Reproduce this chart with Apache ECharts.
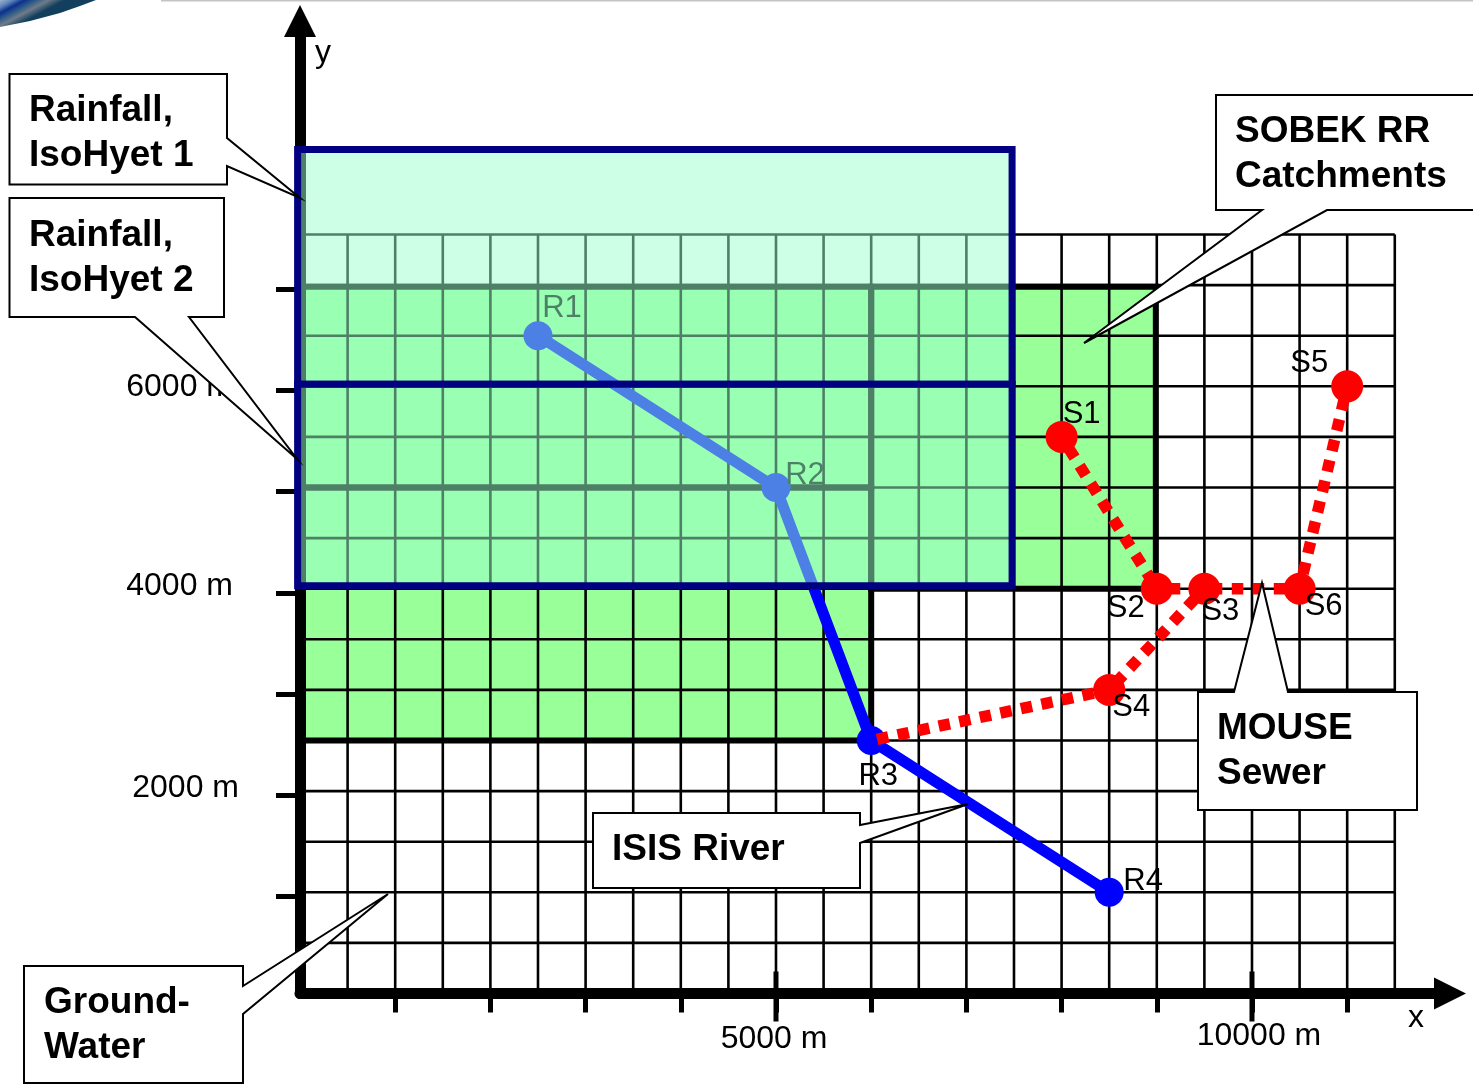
<!DOCTYPE html>
<html><head><meta charset="utf-8">
<style>html,body{margin:0;padding:0;background:#fff}#c{width:1473px;height:1084px}</style>
<script src="https://cdn.jsdelivr.net/npm/echarts@6/dist/echarts.min.js"></script>
</head><body><div id="c"></div>
<script>
// ---- data (metres) ----
const gridX = [0,500,1000,1500,2000,2500,3000,3500,4000,4500,5000,5500,6000,6500,7000,7500,8000,8500,9000,9500,10000,10500,11000,11500];
const gridY = [40,540,1040,1540,2040,2540,3040,3540,4040,4540,5040,5540,6040,6540,7040,7540];
const xTickValues = [1000,2000,3000,4000,5000,6000,7000,8000,9000,10000,11000];
const xMajorTicks = [5000,10000];
const yTickValues = [1000,2000,3000,4000,5000,6000,7000];
const xLabelValues = [5000,10000];
const yLabelValues = [2000,4000,6000];
// catchments: [x0, x1, y0, y1]
const catchments = [[0,6000,2540,5040],[0,6000,5040,7025],[6000,8990,4040,7025]];
// isohyets: [x0, x1, y0, y1]
const isohyets = [[-25,7480,6060,8380],[-25,7480,4070,6060]];
const riverNames = ['R1','R2','R3','R4'];
const riverPoints = [[2500,6540],[5000,5040],[6000,2540],[8500,1040]];
const sewerNames = ['S1','S2','S3','S4','S5','S6'];
const sewerPoints = [[8000,5540],[9000,4040],[9500,4040],[8500,3040],[11000,6040],[10500,4040]];
const R3 = riverPoints[2];
const sewerLinks = [
  [sewerPoints[0],sewerPoints[1]],
  [sewerPoints[1],sewerPoints[5]],
  [sewerPoints[4],sewerPoints[5]],
  [R3,sewerPoints[3]],
  [sewerPoints[3],sewerPoints[2]]
];
const sewerDashPhase = [8,9,8,15,12];
// ---- label placement / callouts ----
const labelOffset = {R1:[24,-27],R2:[29,-12],R3:[7,36],R4:[34,-11],S1:[20,-22],S2:[-31,20],S3:[16,23],S4:[22,18],S5:[-38,-23],S6:[24,18]};
const font = '"Liberation Sans", Arial, sans-serif';
const callouts = [
  {pts:[[9.5,74],[227,74],[227,138],[300,198],[227,166],[227,184.5],[9.5,184.5]], text:[['Rainfall,',29,111],['IsoHyet 1',29,156]]},
  {pts:[[9.5,198],[224,198],[224,317],[189,317],[297,459],[135,317],[9.5,317]], text:[['Rainfall,',29,236],['IsoHyet 2',29,281]]},
  {pts:[[1216,95],[1480,95],[1480,210],[1327,210],[1084,343],[1262,210],[1216,210]], text:[['SOBEK RR',1235,132],['Catchments',1235,177]]},
  {pts:[[1198,692],[1234,692],[1262,583],[1288,692],[1417,692],[1417,810],[1198,810]], text:[['MOUSE',1217,729],['Sewer',1217,774]]},
  {pts:[[593,813],[860,813],[860,825],[968,804],[860,843],[860,888],[593,888]], text:[['ISIS River',612,850]]},
  {pts:[[24,966],[243,966],[243,986],[388,894],[243,1014],[243,1083],[24,1083]], text:[['Ground-',44,1003],['Water',44,1048]]}
];
const graphics = [
  {type:'rect',shape:{x:161,y:0,width:1312,height:1.5},style:{fill:'#c4c4c4'},z:1,silent:true},
  {type:'polygon',shape:{points:[[0,0],[96,0],[80,6],[60,13],[30,21],[0,27]]},
   style:{fill:{type:'linear',x:0,y:0,x2:0.15,y2:1,colorStops:[{offset:0,color:'#9fb2cf'},{offset:.2,color:'#5f86bb'},{offset:.38,color:'#0d2f8e'},{offset:.55,color:'#2a5a88'},{offset:.75,color:'#6f7b88'},{offset:1,color:'#123f5e'}]}},z:1,silent:true},
  {type:'text',x:315,y:53,style:{text:'y',font:'32px '+font,fill:'#000',textVerticalAlign:'middle'},z:2,silent:true},
  {type:'text',x:1408,y:1018,style:{text:'x',font:'32px '+font,fill:'#000',textVerticalAlign:'middle'},z:2,silent:true}
];
callouts.forEach(c=>{
  graphics.push({type:'polygon',shape:{points:c.pts},style:{fill:'#fff',stroke:'#000',lineWidth:2},z:20,silent:true});
  c.text.forEach(t=>graphics.push({type:'text',x:t[1],y:t[2],style:{text:t[0],font:'bold 37px '+font,fill:'#000',textVerticalAlign:'middle'},z:21,silent:true}));
});
function rectSeries(name,data,z,style){
  return {type:'custom',name,z,silent:true,coordinateSystem:'cartesian2d',clip:false,data,
    encode:{x:[0,1],y:[2,3]},
    renderItem(p,api){
      const a=api.coord([api.value(0),api.value(3)]),b=api.coord([api.value(1),api.value(2)]);
      return {type:'rect',shape:{x:a[0],y:a[1],width:b[0]-a[0],height:b[1]-a[1]},style};
    }};
}
function lineSeg(a,b,width,color){
  return {type:'line',shape:{x1:a[0],y1:a[1],x2:b[0],y2:b[1]},style:{stroke:color,lineWidth:width,fill:null}};
}
const option = {
  animation:false,
  backgroundColor:'#fff',
  graphic:graphics,
  grid:{left:300,top:21,width:1150,height:972.5,containLabel:false},
  xAxis:{type:'value',min:0,max:12080,z:3,position:'bottom',
    axisLine:{onZero:false,symbol:['none','triangle'],symbolSize:[32,32],lineStyle:{color:'#000',width:11}},
    axisTick:{show:true,customValues:xTickValues,length:19,lineStyle:{color:'#000',width:5}},
    splitLine:{show:false},
    axisLabel:{show:true,customValues:xLabelValues,margin:27,fontSize:32,fontFamily:font,color:'#000',
      formatter:v=>v===5000?'{a|'+v+' m}':'{b|'+v+' m}',
      rich:{a:{fontSize:32,fontFamily:font,padding:[3,4,0,0]},b:{fontSize:32,fontFamily:font,padding:[0,0,0,14]}}}},
  yAxis:{type:'value',min:40,max:9650,z:3,position:'left',
    axisLine:{onZero:false,symbol:['none','triangle'],symbolSize:[32,32],lineStyle:{color:'#000',width:11}},
    axisTick:{show:true,customValues:yTickValues,length:24,lineStyle:{color:'#000',width:5}},
    splitLine:{show:false},
    axisLabel:{show:true,customValues:yLabelValues,margin:61,fontSize:32,fontFamily:font,color:'#000',
      formatter:v=>v===2000?'{a|'+v+' m}':v===4000?'{b|'+v+' m}':'{c|'+v+' m}',
      rich:{a:{fontSize:32,fontFamily:font,padding:[0,0,13,0]},b:{fontSize:32,fontFamily:font,padding:[0,6,13,0]},c:{fontSize:32,fontFamily:font,padding:[0,6,7,0]}}}},
  series:[
    rectSeries('SOBEK fill',catchments,1,{fill:'#99ff99'}),
    {type:'custom',name:'Groundwater grid',z:2,silent:true,clip:false,coordinateSystem:'cartesian2d',
      data:gridX.map(v=>[0,v]).concat(gridY.map(v=>[1,v])),
      encode:{x:[],y:[]},
      renderItem(p,api){
        const k=api.value(0),v=api.value(1);
        const xmax=gridX[gridX.length-1],ymin=gridY[0],ymax=gridY[gridY.length-1];
        const a=k===0?api.coord([v,ymin]):api.coord([0,v]);
        const b=k===0?api.coord([v,ymax]):api.coord([xmax,v]);
        return lineSeg(a,b,2.6,'#000');
      }},
    rectSeries('SOBEK outline',catchments,2,{fill:'none',stroke:'#000',lineWidth:6}),
    {type:'custom',name:'Major ticks',z:3,silent:true,clip:false,coordinateSystem:'cartesian2d',
      data:xMajorTicks.map(v=>[v,40]),
      renderItem(p,api){
        const c=api.coord([api.value(0),api.value(1)]);
        return lineSeg([c[0],c[1]-22],[c[0],c[1]+28],5,'#000');
      }},
    {type:'line',name:'ISIS River',z:4,data:riverPoints.map((p,i)=>({value:p,name:riverNames[i],
        label:{offset:labelOffset[riverNames[i]]}})),
      showSymbol:true,symbol:'circle',symbolSize:29,itemStyle:{color:'#0000ff'},
      lineStyle:{color:'#0000ff',width:11},
      label:{show:true,position:'inside',formatter:'{b}',fontSize:31,fontFamily:font,color:'#000'},silent:true},
    ...sewerLinks.map((l,i)=>({type:'line',name:'MOUSE link',z:5,data:l,showSymbol:false,symbol:'none',silent:true,
      lineStyle:{color:'#ff0000',width:11.5,type:[11.5,9.5],dashOffset:sewerDashPhase[i],cap:'butt'}})),
    {type:'scatter',name:'MOUSE Sewer',z:5,data:sewerPoints.map((p,i)=>({value:p,name:sewerNames[i],
        label:{offset:labelOffset[sewerNames[i]]}})),
      symbol:'circle',symbolSize:32,itemStyle:{color:'#ff0000',opacity:1},
      label:{show:true,position:'inside',formatter:'{b}',fontSize:31,fontFamily:font,color:'#000'},silent:true},
    rectSeries('IsoHyet',isohyets,6,{fill:'rgba(153,255,204,0.5)',stroke:'#000080',lineWidth:7})
  ]
};
const chart = echarts.init(document.getElementById('c'),null,{renderer:'canvas',width:1473,height:1084});
chart.setOption(option);
</script></body></html>
